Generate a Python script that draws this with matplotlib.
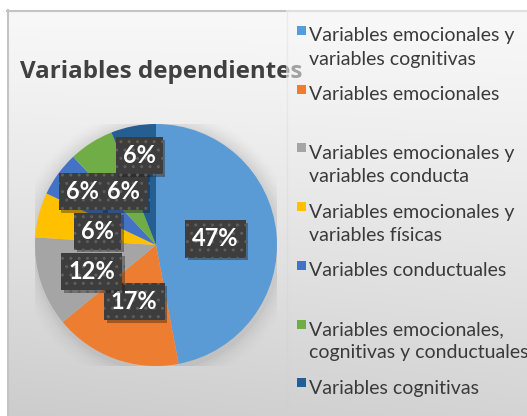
import numpy as np
import matplotlib
matplotlib.use("Agg")
import matplotlib.pyplot as plt
from matplotlib.patches import Rectangle, Circle
import matplotlib.patheffects as pe

# ---- data ----
categories = [
    "Variables emocionales y\nvariables cognitivas",
    "Variables emocionales",
    "Variables emocionales y\nvariables conducta",
    "Variables emocionales y\nvariables físicas",
    "Variables conductuales",
    "Variables emocionales,\ncognitivas y conductuales",
    "Variables cognitivas",
]
values = [47, 17, 12, 6, 6, 6, 6]
colors = ["#5B9BD5", "#ED7D31", "#A5A5A5", "#FFC000", "#4472C4", "#70AD47", "#255E91"]
title = "Variables dependientes"

# label positions (data coords, pie radius = 1), as placed in the original
label_pos = [(0.49, 0.05), (-0.18, -0.47), (-0.53, -0.22), (-0.48, 0.115),
             (-0.61, 0.445), (-0.265, 0.445), (-0.14, 0.74)]

W, H = 527, 416
plt.rcParams['font.family'] = ['Lato', 'DejaVu Sans']
fig = plt.figure(figsize=(W / 100, H / 100), dpi=100)
fig.patch.set_facecolor("white")

# background (pixel coordinate axes)
bg = fig.add_axes([0, 0, 1, 1])
bg.set_xlim(0, W)
bg.set_ylim(H, 0)
bg.axis("off")
yy, xx = np.mgrid[0:H - 10, 0:W - 7]
t = yy / (H - 10)
val = 248 - 44 * t ** 1.15 + 8 * t * (xx / (W - 7))
val = val / 255.0
img = np.dstack([val, val, val])
bg.imshow(img, extent=(7, W, H, 10), aspect="auto", zorder=0, interpolation="bilinear")
bg.plot([7, W], [10.5, 10.5], color="#c4c4c4", lw=1.5, zorder=1)
bg.plot([7.5, 7.5], [10, H], color="#c4c4c4", lw=1.5, zorder=1)

# title
bg.text(20, 78, title, fontsize=17.4, fontweight="bold", color="#404040",
        family=["Open Sans", "DejaVu Sans"], ha="left", va="baseline", zorder=2)

# legend area overlay (semi-transparent, dims title end)
bg.imshow(img[:, 286 - 7:], extent=(286, W, H, 10), aspect="auto", zorder=3,
          alpha=0.55, interpolation="bilinear")
bg.plot([286.5, 286.5], [11, H], color="#d0d0d0", lw=1, alpha=0.3, zorder=3)
bg.set_xlim(0, W)
bg.set_ylim(H, 0)

# legend
spacing = 58.7
for i, (lab, col) in enumerate(zip(categories, colors)):
    top = 26 + i * spacing
    bg.add_patch(Rectangle((297, top), 9, 9, facecolor=col, edgecolor="none", zorder=4))
    for j, line in enumerate(lab.split("\n")):
        bg.text(309, top + 15.5 + 23 * j, line, fontsize=14, color="#3a3a3a",
                ha="left", va="baseline", zorder=4)

# pie
cx, cy, r = 156, 245, 121
ax = fig.add_axes([(cx - r) / W, (H - cy - r) / H, 2 * r / W, 2 * r / H])
ax.axis("off")
for k, a in enumerate(np.linspace(0.06, 0.01, 6)):
    ax.add_patch(Circle((0.01, -0.02), 1.0 + 0.025 * (k + 1), facecolor="#7a7a7a",
                        alpha=a, edgecolor="none", zorder=0))
wedges, _ = ax.pie(values, colors=colors, startangle=90, counterclock=False,
                   radius=1.0, wedgeprops=dict(linewidth=0))
ax.set_xlim(-1, 1)
ax.set_ylim(-1, 1)
ax.set_aspect("equal", adjustable="box")

for v, (x, y) in zip(values, label_pos):
    tx = ax.text(x, y, f"{v}%", fontsize=17, fontweight="bold", color="white",
                 ha="center", va="center", zorder=10,
                 bbox=dict(boxstyle="square,pad=0.3", facecolor="#3d3d3d",
                           edgecolor="#5e5e5e", linewidth=0, hatch=".."))
    tx.get_bbox_patch().set_path_effects([pe.SimplePatchShadow(offset=(2, -2), alpha=0.35), pe.Normal()])

fig.savefig("out.png", dpi=100)
